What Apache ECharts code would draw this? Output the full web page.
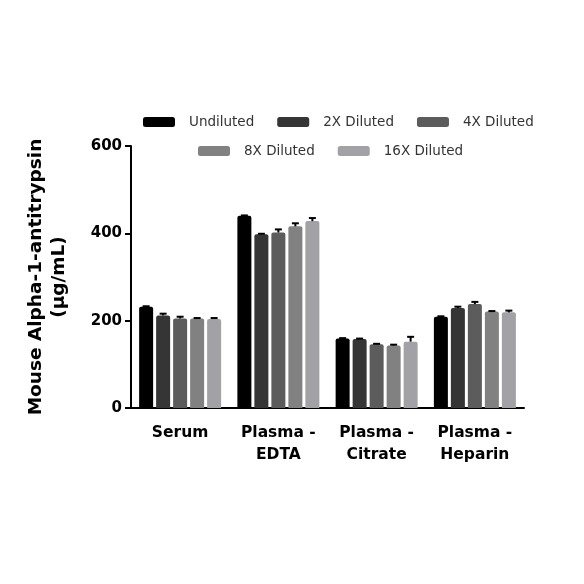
<!DOCTYPE html>
<html>
<head>
<meta charset="utf-8">
<script src="https://cdn.jsdelivr.net/npm/echarts@6/dist/echarts.min.js"></script>
<style>
  html, body { margin: 0; padding: 0; background: #fff; }
  #chart { width: 584px; height: 584px; }
</style>
</head>
<body>
<div id="chart"></div>
<script>
// sample types on the x axis
const categories = ['Serum', 'Plasma -\nEDTA', 'Plasma -\nCitrate', 'Plasma -\nHeparin']
const seriesNames = ['Undiluted', '2X Diluted', '4X Diluted', '8X Diluted', '16X Diluted']

// mean values (µg/mL)
const undiluted = [232, 440, 159, 209]
const diluted2x = [212, 398, 158, 229]
const diluted4x = [205, 402, 146, 238]
const diluted8x = [205, 416, 143, 221]
const diluted16x = [204, 428, 152, 219]

// upper error (SD)
const err1x = [1, 1, 1, 1]
const err2x = [4, 1, 1, 3]
const err4x = [4, 7, 1, 5]
const err8x = [1, 7, 2, 1]
const err16x = [2, 7, 11, 4]

const yTicks = [0, 200, 400, 600]

const colors = ['#000000', '#353535', '#5c5c5c', '#818181', '#a2a2a6']
const values = [undiluted, diluted2x, diluted4x, diluted8x, diluted16x]
const errors = [err1x, err2x, err4x, err8x, err16x]

const BAR_W = 14
const BAR_GAP = 3

const chart = echarts.init(document.getElementById('chart'), null, { renderer: 'canvas' })

const barSeries = seriesNames.map((name, i) => ({
  name: name,
  type: 'bar',
  data: values[i],
  barWidth: BAR_W,
  barGap: (BAR_GAP / BAR_W * 100) + '%',
  itemStyle: { color: colors[i], borderRadius: [2, 2, 0, 0] },
  emphasis: { disabled: true },
  z: 2
}))

const errorSeries = seriesNames.map((name, i) => ({
  type: 'custom',
  silent: true,
  z: 3,
  data: values[i].map((v, c) => [c, v, errors[i][c]]),
  renderItem: function (params, api) {
    const offset = (i - 2) * (BAR_W + BAR_GAP)
    const base = api.coord([api.value(0), api.value(1)])
    const top = api.coord([api.value(0), api.value(1) + api.value(2)])
    const x = base[0] + offset
    return {
      type: 'group',
      children: [
        {
          type: 'line',
          shape: { x1: x, y1: base[1], x2: x, y2: top[1] },
          style: { stroke: '#000', lineWidth: 2 }
        },
        {
          type: 'line',
          shape: { x1: x - 3.5, y1: top[1], x2: x + 3.5, y2: top[1] },
          style: { stroke: '#000', lineWidth: 2 }
        }
      ]
    }
  }
}))

const legendText = {
  fontFamily: 'DejaVu Sans',
  fontSize: 13.5,
  color: '#333',
  padding: [0, 0, 0, 9]
}

chart.setOption({
  animation: false,
  grid: {
    left: 131,
    right: 60,
    top: 146,
    bottom: 176
  },
  legend: [
    {
      data: seriesNames.slice(0, 3),
      left: 143,
      top: 115,
      padding: 0,
      itemWidth: 32,
      itemHeight: 10,
      itemGap: 23,
      icon: 'roundRect',
      textStyle: legendText,
      selectedMode: false
    },
    {
      data: seriesNames.slice(3),
      left: 198,
      top: 144,
      padding: 0,
      itemWidth: 32,
      itemHeight: 10,
      itemGap: 23,
      icon: 'roundRect',
      textStyle: legendText,
      selectedMode: false
    }
  ],
  xAxis: {
    type: 'category',
    data: categories,
    axisLine: { lineStyle: { color: '#000', width: 2 } },
    axisTick: { alignWithLabel: true, length: 6, lineStyle: { color: '#000', width: 2 } },
    axisLabel: {
      interval: 0,
      color: '#000',
      fontFamily: 'DejaVu Sans',
      fontWeight: 'bold',
      fontSize: 15.5,
      lineHeight: 22,
      margin: 14
    }
  },
  yAxis: {
    type: 'value',
    min: yTicks[0],
    max: yTicks[yTicks.length - 1],
    interval: 200,
    name: 'Mouse Alpha-1-antitrypsin\n(µg/mL)',
    nameLocation: 'middle',
    nameGap: 60,
    nameTextStyle: {
      color: '#000',
      fontFamily: 'DejaVu Sans',
      fontWeight: 'bold',
      fontSize: 18.5,
      lineHeight: 23
    },
    axisLine: { show: true, lineStyle: { color: '#000', width: 2 } },
    axisTick: { show: true, length: 6, lineStyle: { color: '#000', width: 2 } },
    splitLine: { show: false },
    axisLabel: {
      color: '#000',
      fontFamily: 'DejaVu Sans',
      fontWeight: 'bold',
      fontSize: 15,
      margin: 9
    }
  },
  series: barSeries.concat(errorSeries)
})
</script>
</body>
</html>
